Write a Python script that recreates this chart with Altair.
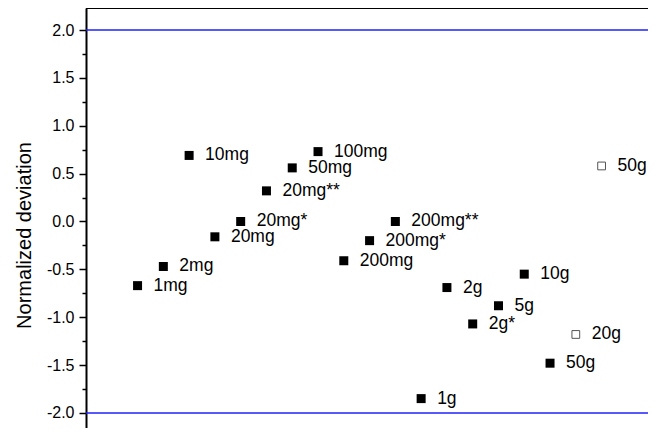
import altair as alt
import pandas as pd

# ---- data ----
labels = ["1mg", "2mg", "10mg", "20mg", "20mg*", "20mg**", "50mg", "100mg",
          "200mg", "200mg*", "200mg**", "1g", "2g", "2g*", "5g", "10g",
          "50g", "20g", "50g"]
x_pos = [2, 3, 4, 5, 6, 7, 8, 9, 10, 11, 12, 13, 14, 15, 16, 17, 18, 19, 20]
deviation = [-0.67, -0.47, 0.69, -0.16, 0.00, 0.32, 0.56, 0.73,
             -0.41, -0.20, 0.00, -1.85, -0.69, -1.07, -0.88, -0.55,
             -1.48, -1.18, 0.58]
marker = ["filled"] * 17 + ["open", "open"]
limits = [2.0, -2.0]
y_ticks = [-2.0, -1.75, -1.5, -1.25, -1.0, -0.75, -0.5, -0.25, 0.0,
           0.25, 0.5, 0.75, 1.0, 1.25, 1.5, 1.75, 2.0]

df = pd.DataFrame({"label": labels, "x": x_pos, "y": deviation, "marker": marker})
lim_df = pd.DataFrame({"y": limits})

FONT = "Liberation Sans"
x_scale = alt.Scale(domain=[0, 21.8], nice=False, zero=False)
y_scale = alt.Scale(domain=[-2.157, 2.23], nice=False, zero=False)

y_axis = alt.Axis(
    values=y_ticks,
    title="Normalized deviation",
    titleFont=FONT, titleFontSize=20, titleFontWeight="normal",
    titleColor="#000", titlePadding=12, titleY=227,
    labelFont=FONT, labelFontSize=16, labelColor="#000", labelPadding=5,
    labelExpr="datum.value % 0.5 == 0 ? (datum.value < 0 ? '-' : '') + format(abs(datum.value), '.1f') : ''",
    tickColor="#000", tickWidth=1.5,
    tickSize={"condition": {"test": "datum.value % 0.5 == 0", "value": 7}, "value": 4},
    domainColor="#000", domainWidth=2, grid=False,
)

base = alt.Chart(df)

filled = base.transform_filter("datum.marker == 'filled'").mark_point(
    shape="square", filled=True, size=81, color="#000", opacity=1
).encode(
    x=alt.X("x:Q", scale=x_scale, axis=None),
    y=alt.Y("y:Q", scale=y_scale, axis=y_axis),
)

opened = base.transform_filter("datum.marker == 'open'").mark_point(
    shape="square", filled=True, size=60, fill="#fff", stroke="#555",
    strokeWidth=1, opacity=1
).encode(
    x=alt.X("x:Q", scale=x_scale, axis=None),
    y=alt.Y("y:Q", scale=y_scale, axis=y_axis),
)

text = base.mark_text(
    align="left", baseline="middle", dx=16, font=FONT, fontSize=17.5, color="#000"
).encode(
    x=alt.X("x:Q", scale=x_scale, axis=None),
    y=alt.Y("y:Q", scale=y_scale, axis=y_axis),
    text="label:N",
)

lines = alt.Chart(lim_df).mark_rule(color="#2020ff", strokeWidth=1.6).encode(
    y=alt.Y("y:Q", scale=y_scale, axis=y_axis)
)

top = alt.Chart(lim_df).mark_rule(color="#000", strokeWidth=2).encode(
    y=alt.value(0)
)

chart = alt.layer(lines, top, filled, opened, text).properties(
    width=562, height=420,
    autosize=alt.AutoSizeParams(type="none"),
    padding={"left": 78, "top": 0, "right": 0, "bottom": 0},
).configure_view(stroke=None).configure(background="#fff")

chart.save("out.html", embed_options={"renderer": "svg", "actions": False})
